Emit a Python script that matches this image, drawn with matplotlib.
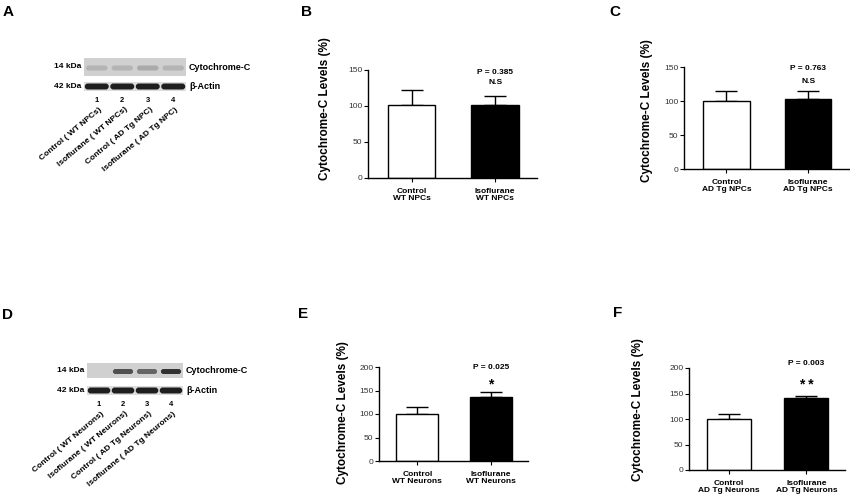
import matplotlib
matplotlib.use('Agg')
import matplotlib.pyplot as plt
from matplotlib.patches import Rectangle, FancyBboxPatch

plt.rcParams['font.family'] = ['Liberation Sans', 'DejaVu Sans']

# --- data ---
groups_b = ['Control\nWT NPCs', 'Isoflurane\nWT NPCs']
levels_b = [101, 101]
sem_b = [21, 13]

groups_c = ['Control\nAD Tg NPCs', 'Isoflurane\nAD Tg NPCs']
levels_c = [100, 103]
sem_c = [15, 11]

groups_e = ['Control\nWT Neurons', 'Isoflurane\nWT Neurons']
levels_e = [100, 137]
sem_e = [15, 10]

groups_f = ['Control\nAD Tg Neurons', 'Isoflurane\nAD Tg Neurons']
levels_f = [100, 141]
sem_f = [10, 5]

ticks_npc = [0, 50, 100, 150]
ticks_neuron = [0, 50, 100, 150, 200]

lane_numbers = ['1', '2', '3', '4']
lanes_a = ['Control ( WT NPCs)', 'Isoflurane ( WT NPCs)',
           'Control ( AD Tg NPC)', 'Isoflurane ( AD Tg NPC)']
lanes_d = ['Control ( WT Neurons)', 'Isoflurane ( WT Neurons)',
           'Control ( AD Tg Neurons)', 'Isoflurane ( AD Tg Neurons)']
# band intensity per lane (0 = none, 1 = saturated)
cytc_a = [0.2, 0.2, 0.25, 0.2]
actin_a = [0.95, 0.95, 0.95, 0.95]
cytc_d = [0.08, 0.7, 0.6, 0.85]
actin_d = [0.95, 0.95, 0.95, 0.95]

fig = plt.figure(figsize=(8.5, 5), dpi=100)

# overlay in pixel coords for blots and panel letters
ov = fig.add_axes([0, 0, 1, 1])
ov.set_xlim(0, 850)
ov.set_ylim(500, 0)
ov.axis('off')

for letter, x, y in [('A', 8, 12), ('B', 307, 12), ('C', 615, 12),
                     ('D', 8, 315), ('E', 303, 314), ('F', 618, 313)]:
    ov.text(x, y, letter, fontsize=11, fontweight='bold', ha='center', va='center')


def band_color(v):
    g = 0.86 - 0.78 * v
    return (g, g, g)


def draw_blot(x0, x1, c_top, c_bot, a_top, a_bot, cytc, actin, names, num_y):
    w = (x1 - x0) / 4
    ov.add_patch(Rectangle((x0, c_top), x1 - x0, c_bot - c_top, fc='#d0d0d0', ec='none'))
    ov.add_patch(Rectangle((x0, a_top), x1 - x0, a_bot - a_top, fc='#dcdcdc', ec='none'))
    cmid = (c_top + c_bot) / 2 + 1
    amid = (a_top + a_bot) / 2
    for i in range(4):
        cx = x0 + (i + 0.5) * w
        if cytc[i] > 0.1:
            ov.add_patch(FancyBboxPatch((cx - w * 0.42, cmid - 2.5), w * 0.84, 5,
                                        boxstyle='round,pad=0,rounding_size=2.5',
                                        fc=band_color(cytc[i]), ec='none'))
        ov.add_patch(FancyBboxPatch((cx - w * 0.47, amid - 3), w * 0.94, 6,
                                    boxstyle='round,pad=0,rounding_size=3',
                                    fc=band_color(actin[i]), ec='none'))
        ov.text(cx, num_y, lane_numbers[i], fontsize=5.5, fontweight='bold',
                ha='center', va='center')
        ov.text(cx + 2, num_y + 6, names[i], fontsize=6, fontweight='bold',
                rotation=40, rotation_mode='anchor', ha='right', va='top')
    ov.text(x0 - 3, (c_top + c_bot) / 2, '14 kDa', fontsize=6, fontweight='bold',
            ha='right', va='center')
    ov.text(x0 - 3, amid, '42 kDa', fontsize=6, fontweight='bold',
            ha='right', va='center')
    ov.text(x1 + 3, (c_top + c_bot) / 2, 'Cytochrome-C', fontsize=6.5, fontweight='bold',
            ha='left', va='center')
    ov.text(x1 + 3, amid, 'β-Actin', fontsize=6.5, fontweight='bold',
            ha='left', va='center')


draw_blot(84, 186, 58, 76, 82, 91, cytc_a, actin_a, lanes_a, 100)
draw_blot(87, 183, 363, 378, 386, 395, cytc_d, actin_d, lanes_d, 404)


def px_axes(x0, x1, y_bot, y_top):
    return fig.add_axes([x0 / 850, (500 - y_bot) / 500, (x1 - x0) / 850, (y_bot - y_top) / 500])


def bar_panel(ax, groups, levels, sem, ticks, ptext, mark, p_y, m_y, m_size, lab_xy):
    xs = [0, 1]
    ax.bar(xs, levels, width=0.57, color=['white', 'black'], edgecolor='black',
           linewidth=1.0, zorder=2)
    ax.errorbar(xs, levels, yerr=[[0, 0], sem], fmt='none', ecolor='black',
                elinewidth=1.0, capsize=8, capthick=1.0, zorder=1)
    ax.set_xlim(-0.52, 1.5)
    ax.set_ylim(0, ticks[-1])
    ax.set_yticks(ticks)
    ax.set_xticks(xs)
    ax.set_xticklabels(groups, fontsize=6, fontweight='bold', linespacing=1.05)
    ax.tick_params(axis='y', labelsize=6, length=3, width=0.8, pad=1, labelcolor='#333333')
    ax.tick_params(axis='x', length=3, width=0.8, pad=4)
    for s in ['top', 'right']:
        ax.spines[s].set_visible(False)
    for s in ['left', 'bottom']:
        ax.spines[s].set_linewidth(1.0)
    ax.set_ylabel('Cytochrome-C Levels (%)', fontsize=8.5, fontweight='bold')
    ax.yaxis.set_label_coords(*lab_xy)
    ax.text(1, p_y, ptext, fontsize=6, fontweight='bold', ha='center', va='center',
            clip_on=False)
    ax.text(1, m_y, mark, fontsize=m_size, fontweight='bold', ha='center', va='center',
            clip_on=False)


ax_b = px_axes(368, 537, 178, 70)
bar_panel(ax_b, groups_b, levels_b, sem_b, ticks_npc, 'P = 0.385', 'N.S',
          146, 132, 6, (-0.218, 0.64))

ax_c = px_axes(684, 849, 169, 67)
bar_panel(ax_c, groups_c, levels_c, sem_c, ticks_npc, 'P = 0.763', 'N.S',
          148.5, 129, 6, (-0.188, 0.57))

ax_e = px_axes(379, 528, 461, 367)
bar_panel(ax_e, groups_e, levels_e, sem_e, ticks_neuron, 'P = 0.025', '*',
          198, 162, 10, (-0.2, 0.52))

ax_f = px_axes(689, 845, 470, 368)
bar_panel(ax_f, groups_f, levels_f, sem_f, ticks_neuron, 'P = 0.003', '* *',
          208, 166, 10, (-0.29, 0.59))

fig.savefig('out.png', dpi=100)
